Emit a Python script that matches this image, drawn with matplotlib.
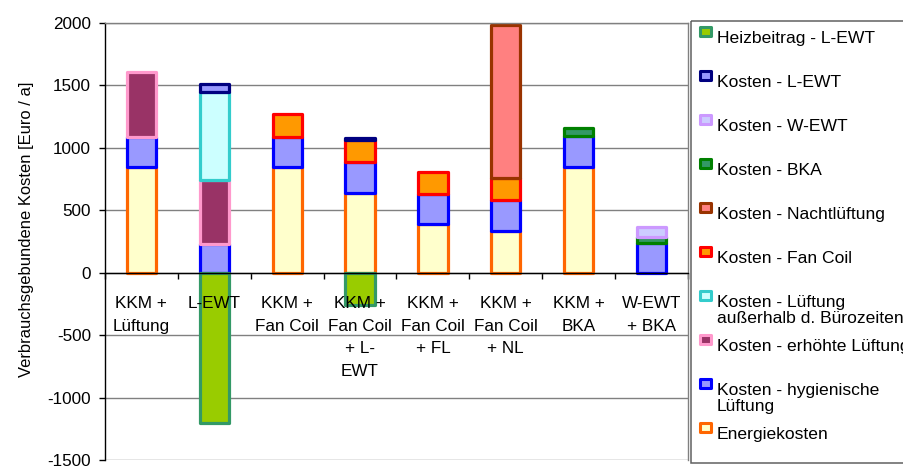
import numpy as np
import matplotlib.pyplot as plt
from matplotlib.patches import Rectangle

plt.rcParams['font.family'] = ['Liberation Sans', 'DejaVu Sans']
plt.rcParams['axes.unicode_minus'] = False

categories = ["KKM +\nLüftung", "L-EWT", "KKM +\nFan Coil",
              "KKM +\nFan Coil\n+ L-\nEWT", "KKM +\nFan Coil\n+ FL",
              "KKM +\nFan Coil\n+ NL", "KKM +\nBKA", "W-EWT\n+ BKA"]

# cost components per variant [Euro / a]
energiekosten       = [850,    0, 850, 640, 390,  335, 850,   0]
hyg_lueftung        = [240,  230, 240, 245, 240,  245, 245, 235]
erhoehte_lueftung   = [520,  515,   0,   0,   0,    0,   0,   0]
lueftung_ausserhalb = [  0,  705,   0,   0,   0,    0,   0,   0]
fan_coil            = [  0,    0, 185, 175, 180,  180,   0,   0]
nachtlueftung       = [  0,    0,   0,   0,   0, 1220,   0,   0]
bka                 = [  0,    0,   0,   0,   0,    0,  67,  48]
w_ewt               = [  0,    0,   0,   0,   0,    0,   0,  86]
l_ewt               = [  0,   62,   0,  20,   0,    0,   0,   0]
heizbeitrag_l_ewt   = [  0, -1200,  0, -260,  0,    0,   0,   0]

# (label, values, fill, edge) in stacking order
series = [
    ("Energiekosten", energiekosten, "#FFFFCC", "#FF6600"),
    ("Kosten - hygienische\nLüftung", hyg_lueftung, "#9999FF", "#0000FF"),
    ("Kosten - erhöhte Lüftung", erhoehte_lueftung, "#993366", "#FF99CC"),
    ("Kosten - Lüftung\naußerhalb d. Bürozeiten", lueftung_ausserhalb, "#CCFFFF", "#33CCCC"),
    ("Kosten - Fan Coil", fan_coil, "#FF9900", "#FF0000"),
    ("Kosten - Nachtlüftung", nachtlueftung, "#FF8080", "#993300"),
    ("Kosten - BKA", bka, "#339966", "#008000"),
    ("Kosten - W-EWT", w_ewt, "#CCCCFF", "#CC99FF"),
    ("Kosten - L-EWT", l_ewt, "#9999FF", "#000080"),
    ("Heizbeitrag - L-EWT", heizbeitrag_l_ewt, "#99CC00", "#339966"),
]

W, H = 904, 468
fig = plt.figure(figsize=(W / 100, H / 100), dpi=100)
ax = fig.add_axes([105 / W, 1 - 460 / H, (688 - 105) / W, (460 - 23) / H])

x = np.arange(len(categories))
pos_bottom = np.zeros(len(categories))
bar_w = 0.40
for label, vals, fc, ec in series:
    v = np.asarray(vals, dtype=float)
    m = v != 0
    if np.all(v <= 0):
        base = np.zeros_like(v)
    else:
        base = pos_bottom.copy()
        pos_bottom = pos_bottom + np.where(v > 0, v, 0)
    ax.bar(x[m], v[m], bottom=base[m], width=bar_w, color=fc,
           edgecolor=ec, linewidth=2.3, joinstyle='round', zorder=1)

ax.set_xlim(-0.5, len(categories) - 0.5)
ax.set_ylim(-1500, 2000)
ax.set_yticks(np.arange(-1500, 2001, 500))
ax.yaxis.grid(True, color="#808080", linewidth=1.0)
ax.set_axisbelow(True)

# tick marks between categories on the zero line
ax.set_xticks(np.arange(-0.5, len(categories), 1))
ax.set_xticklabels([])
ax.tick_params(axis='x', which='major', direction='out', length=4, width=1, color='black')
ax.tick_params(axis='y', direction='out', length=4, width=1, pad=6, labelsize=12.3)

# category names sit just below the zero line, above the bars
for xi, name in zip(x, categories):
    ax.annotate(name, xy=(xi, 0), xytext=(0, -17), textcoords='offset points',
                ha='center', va='top', fontsize=12.3, linespacing=1.62,
                zorder=5, annotation_clip=False)

ax.spines['bottom'].set_position(('data', 0))
ax.spines['bottom'].set_color('black')
ax.spines['left'].set_color('black')
ax.spines['right'].set_color('#808080')
ax.spines['top'].set_color('#808080')
for s in ax.spines.values():
    s.set_linewidth(1.0)

ax.set_ylabel("Verbrauchsgebundene Kosten [Euro / a]", fontsize=11.9)
ax.yaxis.set_label_coords(-0.122, 0.527)

# legend drawn in pixel coordinates on an overlay
lg = fig.add_axes([0, 0, 1, 1], facecolor='none')
lg.set_xlim(0, W)
lg.set_ylim(H, 0)
lg.axis('off')
lg.add_patch(Rectangle((691, 20.7), 300, 442, fill=False,
                       edgecolor='#606060', linewidth=1.1))
for i, (label, vals, fc, ec) in enumerate(reversed(series)):
    base_y = 42.7 + 44 * i
    lg.add_patch(Rectangle((700.5, base_y - 16.2), 11, 9.3, facecolor=fc,
                           edgecolor=ec, linewidth=2.2, joinstyle='round'))
    for j, line in enumerate(label.split("\n")):
        lg.text(717, base_y + 16 * j, line, fontsize=12.6, va='baseline',
                ha='left', color='black')

fig.savefig("out.png", dpi=100)
